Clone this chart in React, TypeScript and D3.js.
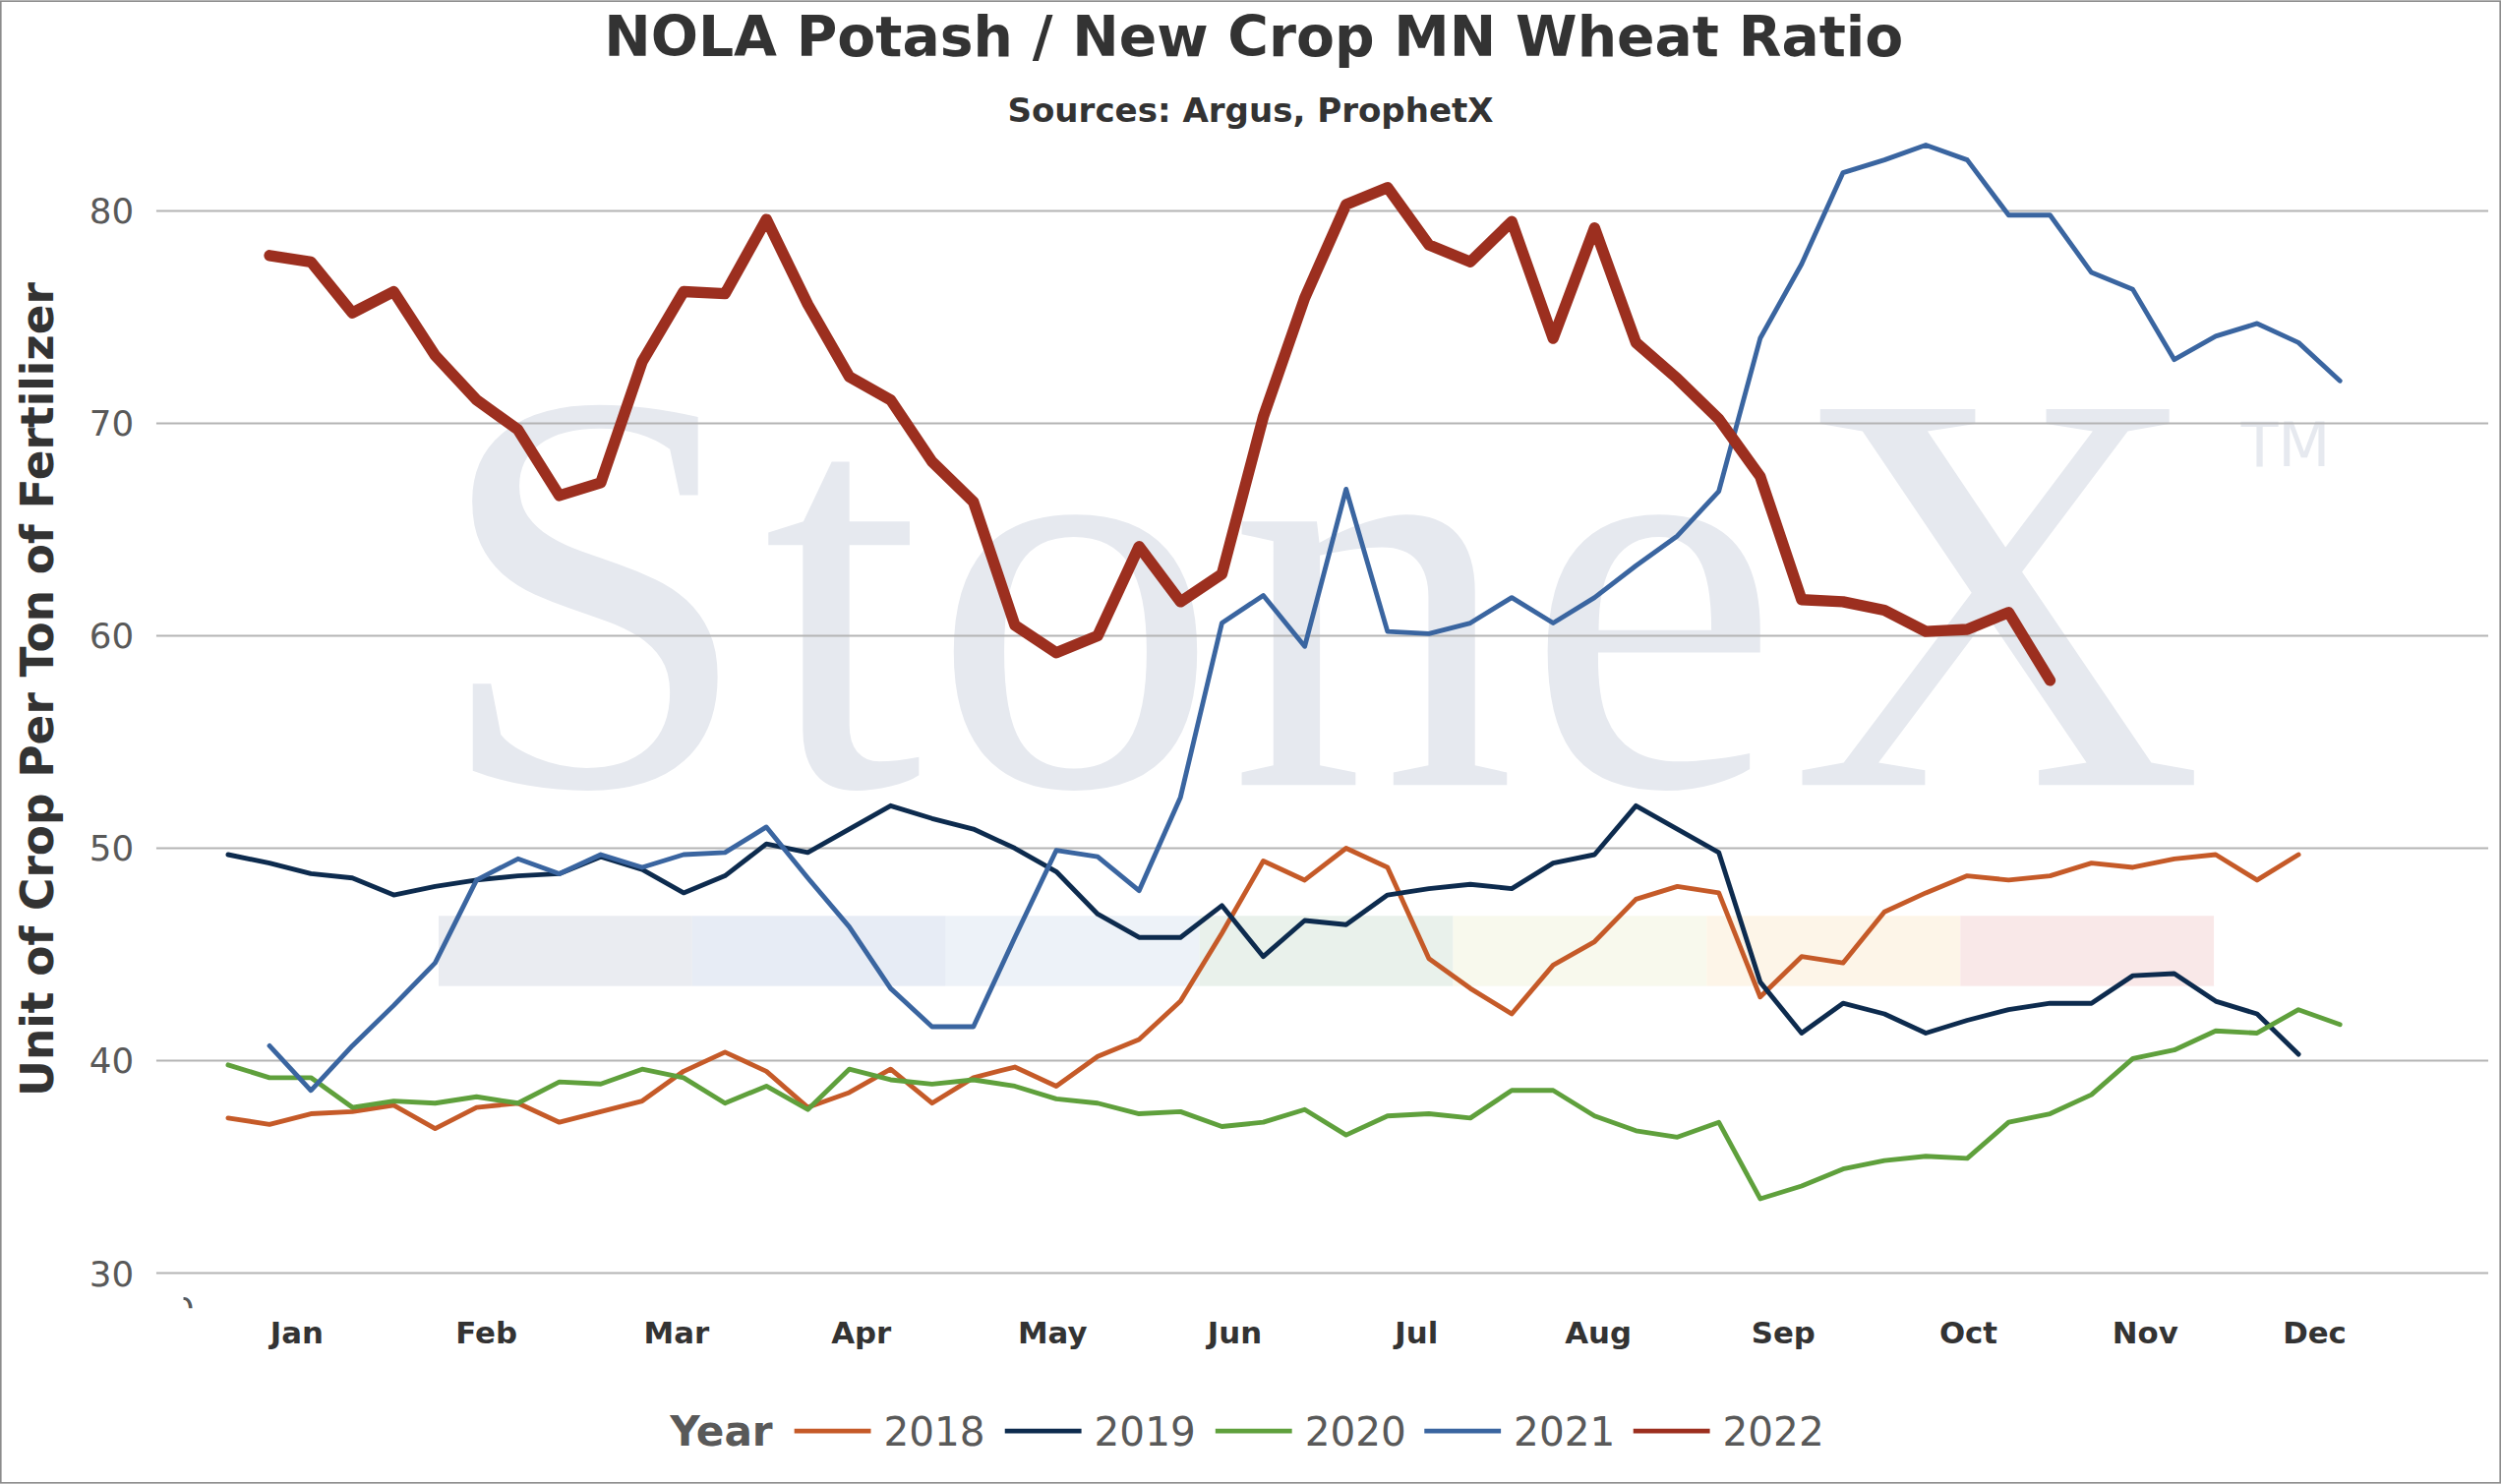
import React from 'react';
import * as d3 from 'd3';

const months = ['Jan', 'Feb', 'Mar', 'Apr', 'May', 'Jun', 'Jul', 'Aug', 'Sep', 'Oct', 'Nov', 'Dec'];
// label position of each month, in weeks from the first week
const monthWeeks = [1.66, 6.24, 10.83, 15.29, 19.91, 24.31, 28.7, 33.09, 37.56, 42.03, 46.3, 50.39];
const yTicks = [30, 40, 50, 60, 70, 80];

const s2018 = [37.3, 37.0, 37.5, 37.6, 37.9, 36.8, 37.8, 38.0, 37.1, 37.6, 38.1, 39.5, 40.4, 39.5, 37.8, 38.5, 39.6, 38.0, 39.2, 39.7, 38.8, 40.2, 41.0, 42.8, 46.0, 49.4, 48.5, 50.0, 49.1, 44.8, 43.4, 42.2, 44.5, 45.6, 47.6, 48.2, 47.9, 43.0, 44.9, 44.6, 47.0, 47.9, 48.7, 48.5, 48.7, 49.3, 49.1, 49.5, 49.7, 48.5, 49.7];
const s2019 = [49.7, 49.3, 48.8, 48.6, 47.8, 48.2, 48.5, 48.7, 48.8, 49.6, 49.0, 47.9, 48.7, 50.2, 49.8, 50.9, 52.0, 51.4, 50.9, 50.0, 48.9, 46.9, 45.8, 45.8, 47.3, 44.9, 46.6, 46.4, 47.8, 48.1, 48.3, 48.1, 49.3, 49.7, 52.0, 50.9, 49.8, 43.7, 41.3, 42.7, 42.2, 41.3, 41.9, 42.4, 42.7, 42.7, 44.0, 44.1, 42.8, 42.2, 40.3];
const s2020 = [39.8, 39.2, 39.2, 37.8, 38.1, 38.0, 38.3, 38.0, 39.0, 38.9, 39.6, 39.2, 38.0, 38.8, 37.7, 39.6, 39.1, 38.9, 39.1, 38.8, 38.2, 38.0, 37.5, 37.6, 36.9, 37.1, 37.7, 36.5, 37.4, 37.5, 37.3, 38.6, 38.6, 37.4, 36.7, 36.4, 37.1, 33.5, 34.1, 34.9, 35.3, 35.5, 35.4, 37.1, 37.5, 38.4, 40.1, 40.5, 41.4, 41.3, 42.4, 41.7];
const s2021 = [40.7, 38.6, 40.7, 42.6, 44.6, 48.5, 49.5, 48.8, 49.7, 49.1, 49.7, 49.8, 51.0, 48.6, 46.3, 43.4, 41.6, 41.6, 45.8, 49.9, 49.6, 48.0, 52.4, 60.6, 61.9, 59.5, 66.9, 60.2, 60.1, 60.6, 61.8, 60.6, 61.8, 63.3, 64.7, 66.8, 74.0, 77.5, 81.8, 82.4, 83.1, 82.4, 79.8, 79.8, 77.1, 76.3, 73.0, 74.1, 74.7, 73.8, 72.0];
const s2022 = [77.9, 77.6, 75.2, 76.2, 73.2, 71.1, 69.7, 66.6, 67.2, 72.9, 76.2, 76.1, 79.6, 75.6, 72.2, 71.1, 68.2, 66.3, 60.5, 59.2, 60.0, 64.2, 61.6, 62.9, 70.3, 75.9, 80.3, 81.1, 78.4, 77.6, 79.5, 74.0, 79.2, 73.8, 72.1, 70.2, 67.5, 61.7, 61.6, 61.2, 60.2, 60.3, 61.1, 57.9];

const series = [
  { name: '2018', values: s2018, start: 0, color: '#c55a28', width: 3 },
  { name: '2019', values: s2019, start: 0, color: '#0d2b4e', width: 3 },
  { name: '2020', values: s2020, start: 0, color: '#5fa03c', width: 3 },
  { name: '2021', values: s2021, start: 1, color: '#3a65a0', width: 3 },
  { name: '2022', values: s2022, start: 1, color: '#9c2f1f', width: 7 },
];

const bandColors = ['#e6e9ef', '#e3e9f3', '#eaf0f7', '#e5efe8', '#f7f8ea', '#fdf3e4', '#f8e4e4'];

const W = 1568;
const H = 930;

export default function App() {
  const x = d3.scaleLinear().domain([0, 51]).range([143, 1467]);
  const y = d3.scaleLinear().domain([30, 80]).range([798, 132]);
  const font = '"DejaVu Sans", Verdana, sans-serif';

  const legendX = [498, 630, 762, 893, 1024];

  return (
    <svg
      width={2543}
      height={1509}
      viewBox={`0 0 ${W} ${H}`}
      style={{ position: 'absolute', left: 0, top: 0, background: '#fff' }}
    >
      <rect x={0.5} y={0.5} width={W - 1} height={H - 1} fill="#fff" stroke="#8c8c8c" />
      <defs>
        <clipPath id="plot">
          <rect x={115} y={60} width={1445} height={760} />
        </clipPath>
      </defs>
      {/* watermark */}
      <text x={272} y={492} fontFamily='"Liberation Serif", serif' fontSize={360} fill="#e6e9ef" textLength={1110}>
        StoneX
      </text>
      <text x={1405} y={292} fontFamily={font} fontSize={38} fill="#e6e9ef">
        TM
      </text>
      {bandColors.map((c, i) => (
        <rect key={i} x={275 + i * 159} y={574} width={159} height={44} fill={c} opacity={0.85} />
      ))}
      {yTicks.map((t) => (
        <g key={t}>
          <line x1={98} x2={1560} y1={y(t)} y2={y(t)} stroke="#b4b4b4" strokeWidth={1.2} />
          <text x={84} y={y(t) + 8} textAnchor="end" fontFamily={font} fontSize={22} fill="#595959">
            {t}
          </text>
        </g>
      ))}
      <text x={108} y={829} fontFamily={font} fontSize={22} fill="#595959" clipPath="url(#plot)">
        0
      </text>
      {months.map((m, i) => (
        <text
          key={m}
          x={x(monthWeeks[i])}
          y={842}
          textAnchor="middle"
          fontFamily={font}
          fontWeight="bold"
          fontSize={19}
          fill="#333"
        >
          {m}
        </text>
      ))}
      {series.map((s) => {
        const pts = s.values.map((v, i) => [x(i + s.start), y(v)] as [number, number]);
        const path = d3.line()(pts) || '';
        return (
          <path
            key={s.name}
            d={path}
            fill="none"
            stroke={s.color}
            strokeWidth={s.width}
            strokeLinejoin="round"
            strokeLinecap="round"
          />
        );
      })}
      <text x={786} y={35} textAnchor="middle" fontFamily={font} fontWeight="bold" fontSize={35} fill="#333">
        NOLA Potash / New Crop MN Wheat Ratio
      </text>
      <text x={784} y={76} textAnchor="middle" fontFamily={font} fontWeight="bold" fontSize={21} fill="#333">
        Sources: Argus, ProphetX
      </text>
      <text
        transform="translate(33,432) rotate(-90)"
        textAnchor="middle"
        fontFamily={font}
        fontWeight="bold"
        fontSize={28}
        fill="#333"
      >
        Unit of Crop Per Ton of Fertilizer
      </text>
      <text x={420} y={906} fontFamily={font} fontWeight="bold" fontSize={26} fill="#595959">
        Year
      </text>
      {series.map((s, i) => (
        <g key={s.name}>
          <line x1={legendX[i]} x2={legendX[i] + 48} y1={897} y2={897} stroke={s.color} strokeWidth={3} />
          <text x={legendX[i] + 56} y={906} fontFamily={font} fontSize={25} fill="#595959">
            {s.name}
          </text>
        </g>
      ))}
    </svg>
  );
}
